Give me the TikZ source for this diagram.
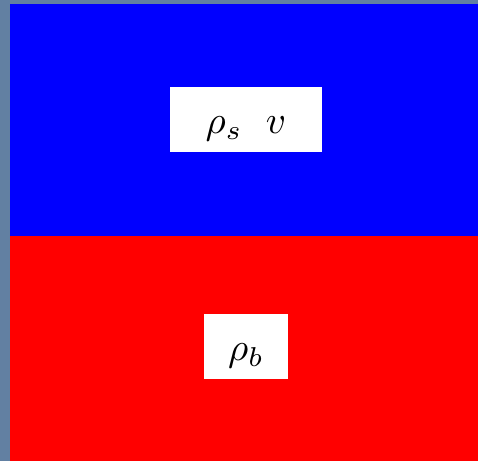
\documentclass[tikz,border=0pt]{standalone}
\usepackage{graphicx}
\begin{document}
\begin{tikzpicture}[x=1pt,y=-1pt,
  label box/.style={fill=white,inner sep=0pt}]
\definecolor{bgslate}{RGB}{98,128,162}
\fill[bgslate] (0,0) rectangle (478,461);
\useasboundingbox (0,0) rectangle (478,461);
\fill[blue] (10,4) rectangle (478,236);
\fill[red] (10,236) rectangle (478,461);
\node[label box,minimum width=152pt,minimum height=65pt] (top) at (246,119.5) {\smash{\raisebox{-14pt}{\scalebox{3.9}{$\rho_s\hspace{0.6em}v$}}}};
\node[label box,minimum width=84pt,minimum height=65pt] (bot) at (246,346.5) {\smash{\raisebox{-14pt}{\scalebox{3.9}{$\rho_b$}}}};
\end{tikzpicture}
\end{document}
